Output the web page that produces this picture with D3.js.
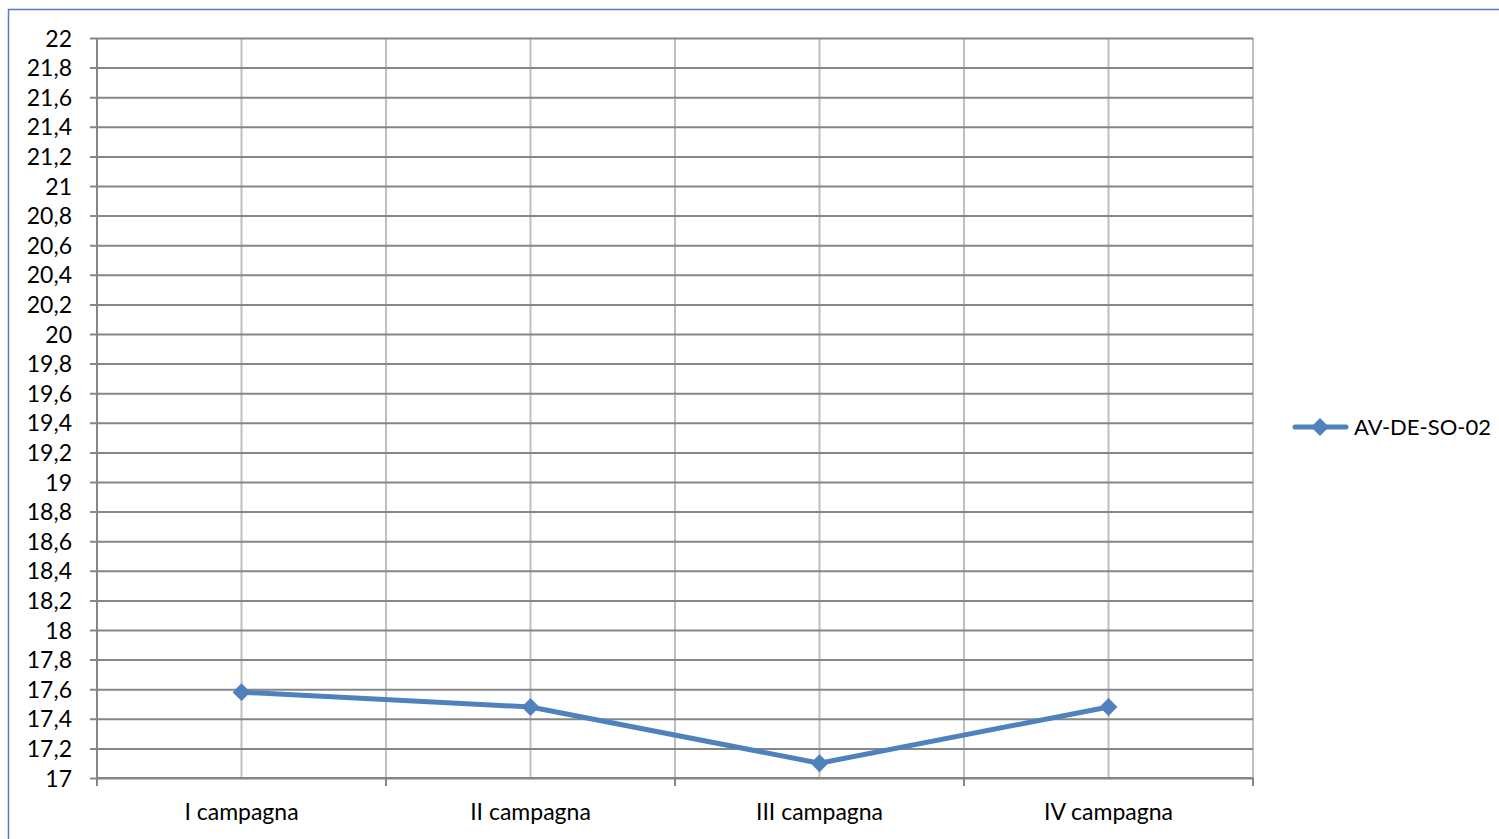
<!DOCTYPE html>
<html><head><meta charset="utf-8">
<script src="https://cdn.jsdelivr.net/npm/d3@7"></script>
<style>body{margin:0;background:#fff;} svg{display:block;font-family:Lato,"Open Sans",sans-serif;}</style>
</head><body>
<svg id="c" width="1499" height="839"></svg>
<script>
const categories = ["I campagna","II campagna","III campagna","IV campagna"];
const seriesName = "AV-DE-SO-02";
const values = [17.58, 17.48, 17.10, 17.48];
const yTicks = [17,17.2,17.4,17.6,17.8,18,18.2,18.4,18.6,18.8,19,19.2,19.4,19.6,19.8,20,20.2,20.4,20.6,20.8,21,21.2,21.4,21.6,21.8,22];

const svg = d3.select("#c");
const L = 97, R = 1253, T = 38, B = 778;
const color = "#4f81bd";
const FONT = "Lato,'Open Sans',sans-serif";

svg.append("path").attr("d","M8.5,839 V9.5 H1499").attr("fill","none").attr("stroke","#4f81bd").attr("stroke-width",1.5);

const x = d3.scaleBand().domain(categories).range([L,R]).padding(0);
const y = d3.scaleLinear().domain([17,22]).range([B,T]);
const fmt = d => String(+d.toFixed(1)).replace(".", ",");

const bounds = categories.map(c => x(c)).concat([R]);
const centers = categories.map(c => x(c) + x.bandwidth()/2);
svg.append("g").selectAll("line").data(centers.concat(bounds.slice(1))).enter().append("line")
  .attr("x1", d=>d).attr("x2", d=>d).attr("y1", T).attr("y2", B)
  .attr("stroke", "#bfbfbf").attr("stroke-width", 2);

const yAxis = d3.axisLeft(y).tickValues(yTicks).tickFormat(fmt).tickSize(-(R-L)).tickSizeOuter(0).tickPadding(0);
const ya = svg.append("g").attr("transform", `translate(${L},0)`).call(yAxis);
ya.select(".domain").remove();
ya.selectAll(".tick line").attr("stroke", "#868686").attr("stroke-width", 2).attr("x1", -7);
ya.selectAll(".tick text").attr("x", -25).attr("dy","0.35em").attr("fill","#000").style("font-size","23px").style("font-family",FONT);

svg.append("line").attr("x1",L).attr("x2",L).attr("y1",T).attr("y2",B).attr("stroke","#868686").attr("stroke-width",2);

const xa = svg.append("g").attr("transform", `translate(0,${B})`).call(d3.axisBottom(x).tickSize(0).tickPadding(0));
xa.select(".domain").remove();
xa.selectAll(".tick text").attr("y", 34).attr("dy","0.35em").attr("fill","#000").style("font-size","23px").style("font-family",FONT);
svg.append("line").attr("x1",L).attr("x2",R).attr("y1",B).attr("y2",B).attr("stroke","#868686").attr("stroke-width",2);
svg.append("g").selectAll("line").data(bounds).enter().append("line")
  .attr("x1",d=>d).attr("x2",d=>d).attr("y1",B).attr("y2",B+8).attr("stroke","#868686").attr("stroke-width",2);

const line = d3.line().x((d,i)=>x(categories[i]) + x.bandwidth()/2).y(d=>y(d));
svg.append("path").datum(values).attr("d", line).attr("fill","none").attr("stroke",color).attr("stroke-width",5).attr("stroke-linejoin","round");
const sq = d3.symbol().type(d3.symbolSquare).size(160);
svg.selectAll("path.pt").data(values).enter().append("path")
  .attr("d", sq).attr("transform",(d,i)=>`translate(${x(categories[i]) + x.bandwidth()/2},${y(d)}) rotate(45)`)
  .attr("fill", color);

const lg = svg.append("g").attr("transform","translate(0,427)");
lg.append("line").attr("x1",1295).attr("x2",1346).attr("y1",0).attr("y2",0).attr("stroke",color).attr("stroke-width",5).attr("stroke-linecap","round");
lg.append("path").attr("d", sq).attr("transform","translate(1320,0) rotate(45)").attr("fill",color);
lg.append("text").attr("x",1354).attr("y",0).attr("dy","0.35em").text(seriesName).style("font-size","22px").style("font-family",FONT).attr("fill","#000");
</script>
</body></html>
